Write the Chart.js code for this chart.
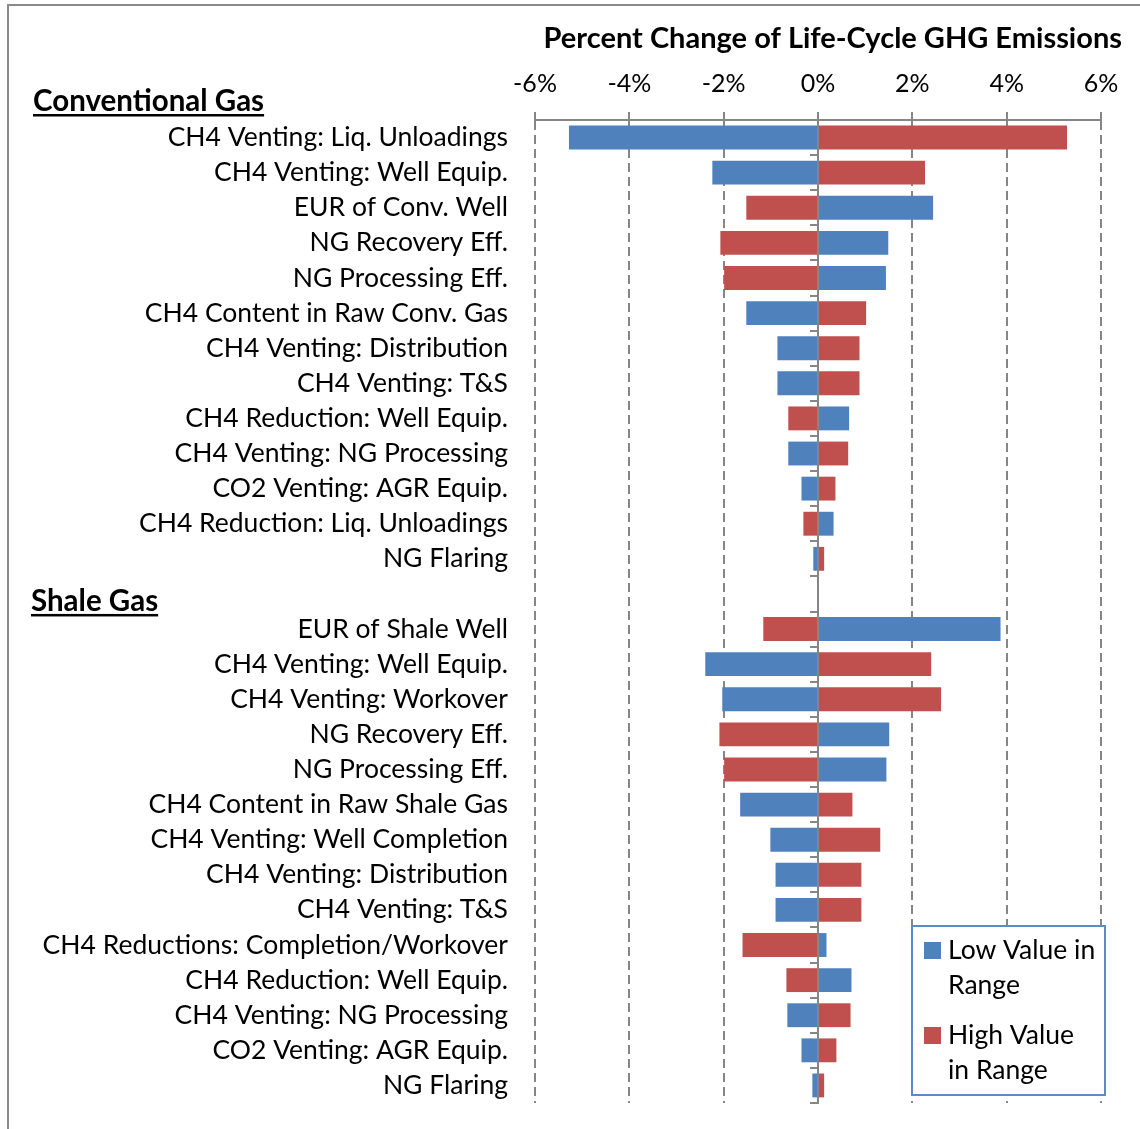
<!DOCTYPE html>
<html>
<head>
<meta charset="utf-8">
<title>Percent Change of Life-Cycle GHG Emissions</title>
<script src="https://cdn.jsdelivr.net/npm/chart.js@4.4.1/dist/chart.umd.min.js"></script>
<style>
  body { margin: 0; background: #fff; }
  #wrap { position: relative; width: 1140px; height: 1129px; overflow: hidden; }
  #frame { position: absolute; left: 7px; top: 4px; width: 1200px; height: 1200px;
           border-left: 2px solid #8a8a8a; border-top: 2px solid #8a8a8a; }
  canvas { position: absolute; left: 0; top: 0; }
</style>
</head>
<body>
<div id="wrap">
  <div id="frame"></div>
  <canvas id="tornado" width="1140" height="1129"></canvas>
</div>
<script>
const chartTitle = 'Percent Change of Life-Cycle GHG Emissions';
const groupHeaders = ['Conventional Gas', 'Shale Gas'];

const conventionalLabels = [
    'CH4 Venting: Liq. Unloadings',
    'CH4 Venting: Well Equip.',
    'EUR of Conv. Well',
    'NG Recovery Eff.',
    'NG Processing Eff.',
    'CH4 Content in Raw Conv. Gas',
    'CH4 Venting: Distribution',
    'CH4 Venting: T&S',
    'CH4 Reduction: Well Equip.',
    'CH4 Venting: NG Processing',
    'CO2 Venting: AGR Equip.',
    'CH4 Reduction: Liq. Unloadings',
    'NG Flaring',
];
const shaleLabels = [
    'EUR of Shale Well',
    'CH4 Venting: Well Equip.',
    'CH4 Venting: Workover',
    'NG Recovery Eff.',
    'NG Processing Eff.',
    'CH4 Content in Raw Shale Gas',
    'CH4 Venting: Well Completion',
    'CH4 Venting: Distribution',
    'CH4 Venting: T&S',
    'CH4 Reductions: Completion/Workover',
    'CH4 Reduction: Well Equip.',
    'CH4 Venting: NG Processing',
    'CO2 Venting: AGR Equip.',
    'NG Flaring',
];

// percent change, low / high value of each parameter range
const conventionalLow = [-5.28, -2.24, 2.44, 1.49, 1.44, -1.52, -0.86, -0.86, 0.66, -0.63, -0.35, 0.33, -0.10];
const conventionalHigh = [5.28, 2.27, -1.52, -2.07, -1.99, 1.02, 0.88, 0.88, -0.63, 0.64, 0.37, -0.31, 0.13];
const shaleLow = [3.87, -2.39, -2.03, 1.51, 1.45, -1.65, -1.01, -0.90, -0.90, 0.18, 0.71, -0.65, -0.35, -0.12];
const shaleHigh = [-1.16, 2.40, 2.61, -2.09, -1.99, 0.73, 1.32, 0.92, 0.92, -1.60, -0.67, 0.69, 0.39, 0.13];

const xTickValues = [-6, -4, -2, 0, 2, 4, 6];
const seriesNames = ['Low Value in Range', 'High Value in Range'];
const legendLines = [['Low Value in', 'Range'], ['High Value', 'in Range']];

const BLUE = '#4F81BD';
const RED = '#C0504D';
const GRAY = '#868686';
const FONT = 'Lato';

// blank slot between the two groups holds the "Shale Gas" header
const categories = [...conventionalLabels, '', ...shaleLabels];
const lowValues = [...conventionalLow, null, ...shaleLow];
const highValues = [...conventionalHigh, null, ...shaleHigh];

const textOverlay = {
    id: 'textOverlay',
    afterDraw(chart) {
        const ctx = chart.ctx;
        const yScale = chart.scales.y;
        ctx.save();
        ctx.fillStyle = '#000';
        ctx.textBaseline = 'alphabetic';

        // title
        ctx.font = `bold 29px ${FONT}`;
        ctx.textAlign = 'right';
        ctx.fillText(chartTitle, 1122, 48);

        // group headers, bold + underlined
        ctx.font = `bold 29.5px ${FONT}`;
        ctx.textAlign = 'left';
        const headerY = [chart.chartArea.top - 9, yScale.getPixelForValue(conventionalLabels.length) + 17];
        groupHeaders.forEach((txt, i) => {
            const x = i === 0 ? 33 : 31;
            ctx.fillText(txt, x, headerY[i]);
            const w = ctx.measureText(txt).width;
            ctx.fillRect(x, headerY[i] + 3, w, 2.5);
        });

        // legend box
        const lx = 912, ly = 926, lw = 193, lh = 169;
        ctx.fillStyle = '#fff';
        ctx.fillRect(lx, ly, lw, lh);
        ctx.strokeStyle = '#5B8BC6';
        ctx.lineWidth = 2;
        ctx.strokeRect(lx, ly, lw, lh);
        ctx.font = `26.5px ${FONT}`;
        const colors = [BLUE, RED];
        const itemTop = [942, 1027];
        legendLines.forEach((lines, i) => {
            ctx.fillStyle = colors[i];
            ctx.fillRect(924, itemTop[i], 17, 17);
            ctx.fillStyle = '#000';
            lines.forEach((line, j) => ctx.fillText(line, 948, itemTop[i] + 17 + j * 35));
        });
        ctx.restore();
    }
};

const ctx = document.getElementById('tornado').getContext('2d');
new Chart(ctx, {
    type: 'bar',
    data: {
        labels: categories,
        datasets: [{
            label: seriesNames[0],
            data: lowValues,
            backgroundColor: BLUE,
            borderWidth: 0,
        }, {
            label: seriesNames[1],
            data: highValues,
            backgroundColor: RED,
            borderWidth: 0,
        }],
    },
    options: {
        indexAxis: 'y',
        responsive: false,
        animation: false,
        barPercentage: 1,
        categoryPercentage: 0.68,
        layout: {
            padding: { left: 0, right: 39, top: 0, bottom: 26 },
        },
        plugins: {
            legend: { display: false },
            tooltip: { enabled: false },
            title: { display: false },
        },
        scales: {
            x: {
                position: 'top',
                stacked: true,
                min: -6,
                max: 6,
                afterBuildTicks: (scale) => {
                    scale.ticks = xTickValues.map(v => ({ value: v }));
                },
                afterFit: (scale) => { scale.height = 120; },
                ticks: {
                    padding: 13,
                    color: '#000',
                    font: { family: FONT, size: 25 },
                    callback: (v) => v + '%',
                },
                grid: {
                    color: GRAY,
                    lineWidth: 2,
                    tickLength: 8,
                    tickColor: GRAY,
                    tickWidth: 2,
                    tickBorderDash: [],
                },
                border: {
                    display: true,
                    color: GRAY,
                    width: 2,
                    dash: [9, 5], // dashed grid lines
                },
            },
            y: {
                stacked: true,
                afterFit: (scale) => {
                    scale.width = 535;
                    scale.paddingTop = 0; // no extra room for first/last label
                    scale.paddingBottom = 0;
                },
                ticks: {
                    padding: 19,
                    color: '#000',
                    font: { family: FONT, size: 26.5 },
                    autoSkip: false,
                },
                grid: { display: false },
                border: { display: false },
            },
            // category axis drawn through 0%
            yZero: {
                type: 'category',
                position: { x: 0 },
                offset: true,
                ticks: { display: false },
                afterFit: (scale) => {
                    scale.paddingTop = 0;
                    scale.paddingBottom = 0;
                },
                grid: {
                    offset: true,
                    drawOnChartArea: false,
                    drawTicks: true,
                    tickLength: 7,
                    color: GRAY,
                    lineWidth: 2,
                },
                border: {
                    display: true,
                    color: GRAY,
                    width: 2,
                    z: 1,
                },
            },
        },
    },
    plugins: [textOverlay],
});
</script>
</body>
</html>
